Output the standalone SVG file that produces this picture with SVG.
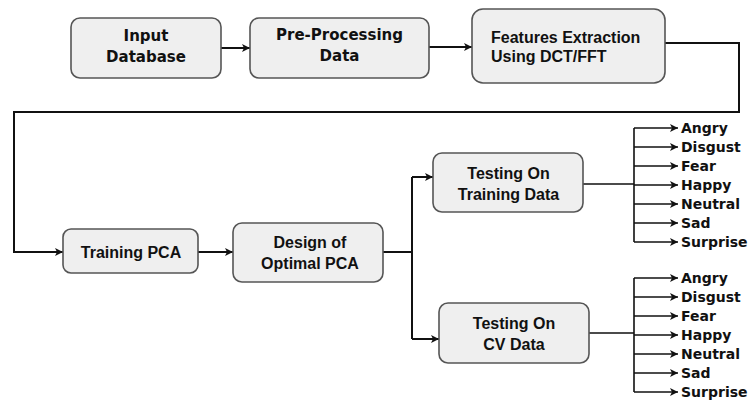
<svg xmlns="http://www.w3.org/2000/svg" width="751" height="401" viewBox="0 0 751 401">
<defs>
<marker id="ah" markerUnits="userSpaceOnUse" markerWidth="10" markerHeight="10" refX="9" refY="5" orient="auto">
<path d="M1,1 L9,5 L1,9 L3,5 z" fill="#111"/>
</marker>
<style>
.box{fill:#efefef;stroke:#555;stroke-width:1.6}
.t1{font-family:"DejaVu Sans",Verdana,sans-serif;font-weight:bold;font-size:15px;fill:#111;text-anchor:middle}
.t2{font-family:"Liberation Sans",Arial,sans-serif;font-weight:bold;font-size:16px;fill:#111}
.t3{font-family:"Liberation Sans",Arial,sans-serif;font-weight:bold;font-size:16px;fill:#111;text-anchor:middle}
.lab{font-family:"DejaVu Sans",Verdana,sans-serif;font-weight:bold;font-size:14px;fill:#111}
.c{fill:none;stroke:#111;stroke-width:2}
.c2{fill:none;stroke:#111;stroke-width:1.6}
</style>
</defs>
<rect width="751" height="401" fill="#fff"/>
<g id="connectors">
<path class="c" d="M221,48 H250" marker-end="url(#ah)"/>
<path class="c" d="M429,47 H472" marker-end="url(#ah)"/>
<path class="c" d="M665,43 H739 V112 H14 V252 H63" marker-end="url(#ah)"/>
<path class="c" d="M198,252 H233" marker-end="url(#ah)"/>
<path class="c" d="M383,252 H412"/>
<path class="c" d="M412,177 V339"/>
<path class="c" d="M412,177 H433" marker-end="url(#ah)"/>
<path class="c" d="M412,339 H439" marker-end="url(#ah)"/>
<path class="c2" d="M583,184 H634 M634,128 V242"/>
<path class="c2" d="M634,128 H678" marker-end="url(#ah)"/>
<path class="c2" d="M634,147 H678" marker-end="url(#ah)"/>
<path class="c2" d="M634,166 H678" marker-end="url(#ah)"/>
<path class="c2" d="M634,185 H678" marker-end="url(#ah)"/>
<path class="c2" d="M634,204 H678" marker-end="url(#ah)"/>
<path class="c2" d="M634,223 H678" marker-end="url(#ah)"/>
<path class="c2" d="M634,242 H678" marker-end="url(#ah)"/>
<path class="c2" d="M589,333 H634 M634,278 V392"/>
<path class="c2" d="M634,278 H678" marker-end="url(#ah)"/>
<path class="c2" d="M634,297 H678" marker-end="url(#ah)"/>
<path class="c2" d="M634,316 H678" marker-end="url(#ah)"/>
<path class="c2" d="M634,335 H678" marker-end="url(#ah)"/>
<path class="c2" d="M634,354 H678" marker-end="url(#ah)"/>
<path class="c2" d="M634,373 H678" marker-end="url(#ah)"/>
<path class="c2" d="M634,392 H678" marker-end="url(#ah)"/>
</g>
<g id="input-database">
<rect class="box" x="71" y="18" width="150" height="60" rx="9"/>
<text class="t1" x="146" y="41">Input</text>
<text class="t1" x="146" y="62">Database</text>
</g>
<g id="pre-processing">
<rect class="box" x="250" y="18" width="179" height="60" rx="9"/>
<text class="t1" x="339.5" y="40">Pre-Processing</text>
<text class="t1" x="339.5" y="61">Data</text>
</g>
<g id="features-extraction">
<rect class="box" x="472" y="9" width="193" height="74" rx="11"/>
<text class="t2" x="491" y="43">Features Extraction</text>
<text class="t2" x="491" y="62">Using DCT/FFT</text>
</g>
<g id="training-pca">
<rect class="box" x="63" y="229" width="135" height="44" rx="8"/>
<text class="t2" x="131" y="258" text-anchor="middle">Training PCA</text>
</g>
<g id="design-optimal-pca">
<rect class="box" x="233" y="223" width="150" height="59" rx="9"/>
<text class="t2" x="310" y="248" text-anchor="middle">Design of</text>
<text class="t2" x="310" y="269" text-anchor="middle">Optimal PCA</text>
</g>
<g id="testing-training">
<rect class="box" x="433" y="153" width="150" height="59" rx="9"/>
<text class="t3" x="508.5" y="179">Testing On</text>
<text class="t3" x="508.5" y="200">Training Data</text>
</g>
<g id="testing-cv">
<rect class="box" x="439" y="303" width="150" height="60" rx="9"/>
<text class="t3" x="514" y="329">Testing On</text>
<text class="t3" x="514" y="350">CV Data</text>
</g>
<g id="labels-training">
<text class="lab" x="681" y="133">Angry</text>
<text class="lab" x="681" y="152">Disgust</text>
<text class="lab" x="681" y="171">Fear</text>
<text class="lab" x="681" y="190">Happy</text>
<text class="lab" x="681" y="209">Neutral</text>
<text class="lab" x="681" y="228">Sad</text>
<text class="lab" x="681" y="247">Surprise</text>
</g>
<g id="labels-cv">
<text class="lab" x="681" y="283">Angry</text>
<text class="lab" x="681" y="302">Disgust</text>
<text class="lab" x="681" y="321">Fear</text>
<text class="lab" x="681" y="340">Happy</text>
<text class="lab" x="681" y="359">Neutral</text>
<text class="lab" x="681" y="378">Sad</text>
<text class="lab" x="681" y="397">Surprise</text>
</g>
</svg>
